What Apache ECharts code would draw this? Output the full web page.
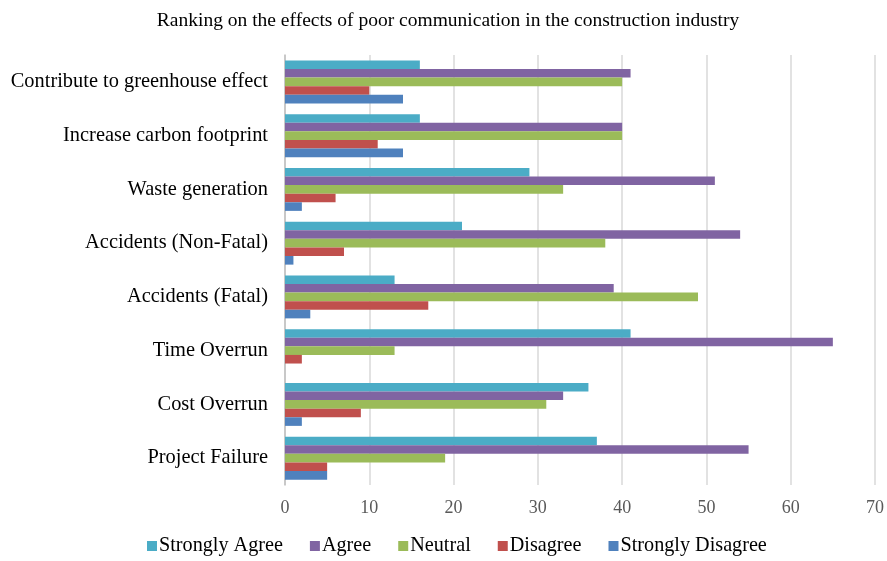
<!DOCTYPE html>
<html>
<head>
<meta charset="utf-8">
<script src="https://cdn.jsdelivr.net/npm/echarts@6/dist/echarts.min.js"></script>
<style>
  html, body { margin: 0; padding: 0; background: #fff; }
  #chart { width: 887px; height: 561px; }
</style>
</head>
<body>
<div id="chart"></div>
<script>
// categories listed bottom to top
var categories = [
    "Project Failure",
    "Cost Overrun",
    "Time Overrun",
    "Accidents (Fatal)",
    "Accidents (Non-Fatal)",
    "Waste generation",
    "Increase carbon footprint",
    "Contribute to greenhouse effect"
];
var stronglyAgree    = [37, 36, 41, 13, 21, 29, 16, 16];
var agree            = [55, 33, 65, 39, 54, 51, 40, 41];
var neutral          = [19, 31, 13, 49, 38, 33, 40, 40];
var disagree         = [5, 9, 2, 17, 7, 6, 11, 10];
var stronglyDisagree = [5, 2, 0, 3, 1, 2, 14, 14];
var legendNames = ["Strongly Agree", "Agree", "Neutral", "Disagree", "Strongly Disagree"];

var font = "'Liberation Serif', 'Times New Roman', serif";

function bar(name, data, color) {
    return {
        name: name,
        type: "bar",
        barGap: "0%",
        barCategoryGap: "20%",
        itemStyle: {color: color},
        data: data
    };
}

var chart = echarts.init(document.getElementById("chart"));
var option = {
    animation: false,
    textStyle: {fontFamily: font},
    title: {
        text: "Ranking on the effects of poor communication in the construction industry",
        left: 443,
        textAlign: "center",
        top: 6,
        textStyle: {fontFamily: font, fontWeight: "normal", fontSize: 19.5, color: "#000"}
    },
    legend: {
        data: legendNames,
        top: 536,
        left: 147,
        padding: 0,
        itemWidth: 10,
        itemHeight: 10,
        itemGap: 27,
        icon: "rect",
        textStyle: {fontFamily: font, fontSize: 20.2, color: "#000", padding: [0, 0, 0, -3]}
    },
    grid: {left: 285, right: 10, top: 55, bottom: 76},
    xAxis: {
        type: "value",
        min: 0,
        max: 70,
        interval: 10,
        axisLine: {show: false},
        axisTick: {show: false},
        axisLabel: {fontFamily: font, fontSize: 18, color: "#595959", margin: 14},
        splitLine: {lineStyle: {color: "#d9d9d9", width: 1.5}}
    },
    yAxis: {
        type: "category",
        data: categories,
        axisLine: {show: true, lineStyle: {color: "#bfbfbf", width: 1.5}},
        axisTick: {show: false},
        axisLabel: {fontFamily: font, fontSize: 20.4, color: "#000", margin: 17},
        splitLine: {show: false}
    },
    // first series is drawn at the top of each band
    series: [
        bar("Strongly Agree", stronglyAgree, "#4BACC6"),
        bar("Agree", agree, "#8064A2"),
        bar("Neutral", neutral, "#9BBB59"),
        bar("Disagree", disagree, "#C0504D"),
        bar("Strongly Disagree", stronglyDisagree, "#4F81BD")
    ]
};
chart.setOption(option);
</script>
</body>
</html>
